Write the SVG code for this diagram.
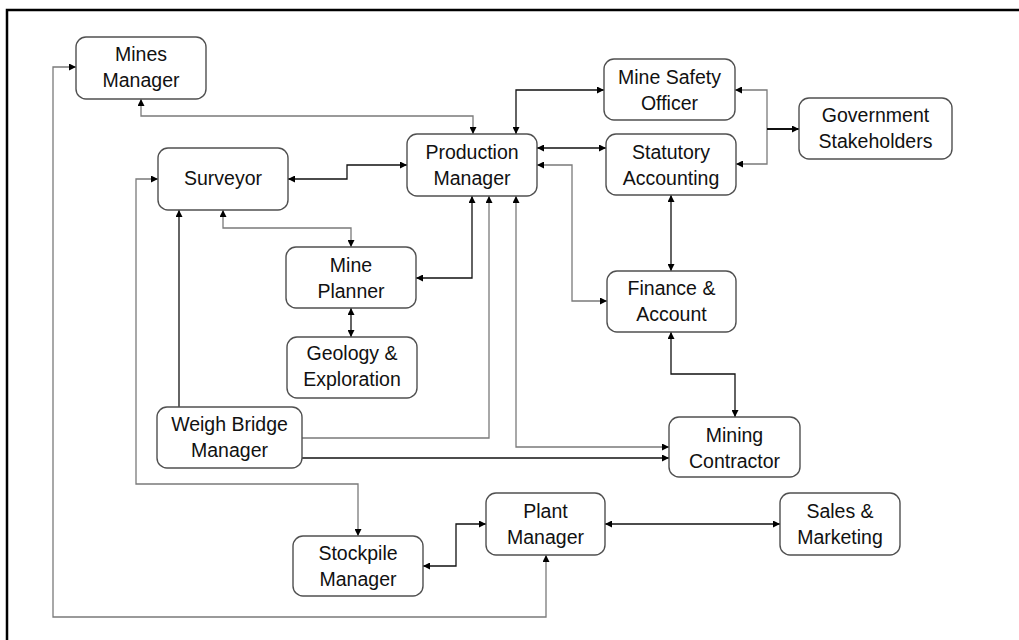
<svg xmlns="http://www.w3.org/2000/svg" width="1019" height="640" viewBox="0 0 1019 640">
<style>
.box{fill:#fff;stroke:#505050;stroke-width:1.4}
.t{font-family:"Liberation Sans",Arial,sans-serif;font-size:19.5px;fill:#111;text-anchor:middle}
.c{fill:none;stroke-width:1.3}
.k{stroke:#111}
.g{stroke:#7a7a7a}
.b{marker-start:url(#ah);marker-end:url(#ah)}
.e{marker-end:url(#ah)}
</style>
<defs>
<marker id="ah" viewBox="0 0 8 8" refX="8" refY="4" markerWidth="7" markerHeight="7" markerUnits="userSpaceOnUse" orient="auto-start-reverse">
<path d="M0,0 L8,4 L0,8 z" fill="#000"/>
</marker>
</defs>
<rect width="1019" height="640" fill="#fff"/>
<path d="M7,640 V10 H1019" fill="none" stroke="#000" stroke-width="2.5"/>
<g id="connectors">
<path class="c g b" d="M141,99 V116 H473 V134"/>
<path class="c g b" d="M546,555 V617 H53 V67 H76"/>
<path class="c k b" d="M288,179 H347 V165 H407"/>
<path class="c g b" d="M158,179 H136 V484 H358 V536"/>
<path class="c g b" d="M223,210 V228 H351 V247"/>
<path class="c k e" d="M179,407 V210"/>
<path class="c k b" d="M351,308 V337"/>
<path class="c k b" d="M472,196 V278 H416"/>
<path class="c g e" d="M302,438 H489 V196"/>
<path class="c k e" d="M302,458 H669"/>
<path class="c g b" d="M669,447 H516 V196"/>
<path class="c k b" d="M516,134 V90 H604"/>
<path class="c k b" d="M537,148 H606"/>
<path class="c g b" d="M537,165 H572 V301 H607"/>
<path class="c g b" d="M735,90 H767 V164 H736"/>
<path class="c k e" style="stroke-width:2" d="M767,129 H799"/>
<path class="c k b" d="M671,195 V271"/>
<path class="c k b" d="M671,332 V374 H735 V417"/>
<path class="c k b" d="M423,566 H456 V524 H486"/>
<path class="c k b" d="M605,524 H780"/>
</g>
<g id="mines-manager"><rect class="box" x="76" y="37" width="130" height="62" rx="10"/><text class="t" x="141" y="61">Mines</text><text class="t" x="141" y="87">Manager</text></g>
<g id="surveyor"><rect class="box" x="158" y="148" width="130" height="62" rx="10"/><text class="t" x="223" y="185">Surveyor</text></g>
<g id="production-manager"><rect class="box" x="407" y="134" width="130" height="62" rx="10"/><text class="t" x="472" y="159">Production</text><text class="t" x="472" y="185">Manager</text></g>
<g id="mine-safety-officer"><rect class="box" x="604" y="59" width="131" height="61" rx="10"/><text class="t" x="669.5" y="84">Mine Safety</text><text class="t" x="669.5" y="110">Officer</text></g>
<g id="statutory-accounting"><rect class="box" x="606" y="134" width="130" height="61" rx="10"/><text class="t" x="671" y="159">Statutory</text><text class="t" x="671" y="185">Accounting</text></g>
<g id="government-stakeholders"><rect class="box" x="799" y="98" width="153" height="61" rx="10"/><text class="t" x="875.5" y="122">Government</text><text class="t" x="875.5" y="148">Stakeholders</text></g>
<g id="mine-planner"><rect class="box" x="286" y="247" width="130" height="61" rx="10"/><text class="t" x="351" y="272">Mine</text><text class="t" x="351" y="298">Planner</text></g>
<g id="geology-exploration"><rect class="box" x="287" y="337" width="130" height="61" rx="10"/><text class="t" x="352" y="360">Geology &amp;</text><text class="t" x="352" y="386">Exploration</text></g>
<g id="finance-account"><rect class="box" x="607" y="271" width="129" height="61" rx="10"/><text class="t" x="671.5" y="295">Finance &amp;</text><text class="t" x="671.5" y="321">Account</text></g>
<g id="weigh-bridge-manager"><rect class="box" x="157" y="407" width="145" height="61" rx="10"/><text class="t" x="229.5" y="431">Weigh Bridge</text><text class="t" x="229.5" y="457">Manager</text></g>
<g id="mining-contractor"><rect class="box" x="669" y="417" width="131" height="60" rx="10"/><text class="t" x="734.5" y="442">Mining</text><text class="t" x="734.5" y="468">Contractor</text></g>
<g id="stockpile-manager"><rect class="box" x="293" y="536" width="130" height="60" rx="10"/><text class="t" x="358" y="560">Stockpile</text><text class="t" x="358" y="586">Manager</text></g>
<g id="plant-manager"><rect class="box" x="486" y="493" width="119" height="62" rx="10"/><text class="t" x="545.5" y="518">Plant</text><text class="t" x="545.5" y="544">Manager</text></g>
<g id="sales-marketing"><rect class="box" x="780" y="493" width="120" height="62" rx="10"/><text class="t" x="840" y="518">Sales &amp;</text><text class="t" x="840" y="544">Marketing</text></g>
</svg>
